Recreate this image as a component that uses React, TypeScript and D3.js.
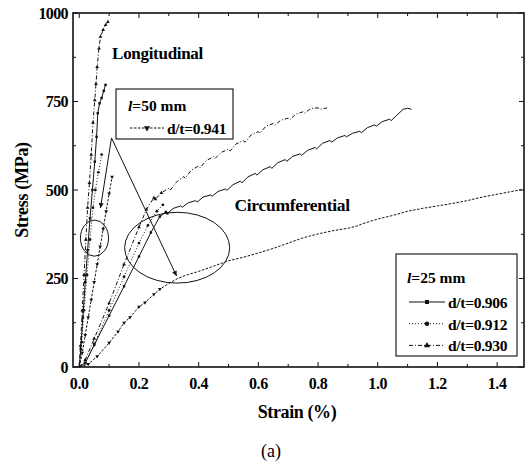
import React from 'react';
import * as d3 from 'd3';

// ---- data: [strain %, stress MPa] ----
// circumferential, l = 25 mm
const circ906: [number, number][] = [
  [0, 0], [0.02, 12], [0.05, 62], [0.1, 145], [0.15, 228], [0.2, 312], [0.24, 380], [0.27, 425], [0.29, 438], [0.295, 434],
  [0.315, 448], [0.34, 455], [0.345, 451], [0.365, 464], [0.39, 470], [0.395, 466],
  [0.415, 480], [0.44, 486], [0.445, 482], [0.465, 496], [0.49, 503], [0.495, 499],
  [0.515, 515], [0.54, 525], [0.545, 520], [0.565, 537], [0.59, 547], [0.595, 542],
  [0.615, 557], [0.64, 566], [0.645, 561], [0.665, 577], [0.69, 586], [0.695, 581],
  [0.715, 595], [0.74, 602], [0.745, 598], [0.765, 612], [0.79, 620], [0.795, 616],
  [0.815, 632], [0.84, 640], [0.845, 635], [0.865, 647], [0.89, 654], [0.895, 650],
  [0.915, 660], [0.94, 666], [0.945, 662], [0.965, 676], [0.99, 684], [0.995, 680],
  [1.015, 693], [1.04, 700], [1.045, 696], [1.06, 708], [1.085, 728], [1.1, 731], [1.113, 728],
];
const circ912: [number, number][] = [
  [0, 0], [0.02, 10], [0.05, 65], [0.1, 160], [0.15, 255], [0.2, 350], [0.23, 400], [0.26, 440], [0.28, 458],
];
const circ930: [number, number][] = [
  [0, 0], [0.02, 20], [0.05, 80], [0.1, 180], [0.15, 290], [0.2, 395], [0.225, 445], [0.25, 478], [0.255, 474],
  [0.275, 492], [0.3, 505], [0.305, 500], [0.325, 522], [0.35, 538], [0.355, 533],
  [0.375, 556], [0.4, 568], [0.405, 563], [0.425, 583], [0.45, 594], [0.455, 589],
  [0.475, 606], [0.5, 615], [0.505, 610], [0.525, 630], [0.55, 640], [0.555, 635],
  [0.575, 655], [0.6, 665], [0.605, 660], [0.625, 680], [0.65, 688], [0.655, 683],
  [0.675, 697], [0.7, 703], [0.705, 698], [0.725, 714], [0.75, 721], [0.755, 717],
  [0.775, 730], [0.8, 732], [0.81, 728], [0.83, 732],
];
// circumferential, l = 50 mm
const circ941: [number, number][] = [
  [0, 0], [0.03, 8], [0.06, 30], [0.1, 68], [0.13, 100], [0.15, 125], [0.17, 140], [0.2, 170], [0.22, 182],
  [0.25, 205], [0.27, 220], [0.3, 236], [0.33, 250], [0.36, 260], [0.4, 270], [0.45, 285], [0.5, 300],
  [0.55, 310], [0.6, 322], [0.65, 335], [0.7, 350], [0.75, 365], [0.8, 376], [0.85, 385], [0.9, 392],
  [0.93, 398], [0.95, 405], [1.0, 418], [1.05, 428], [1.1, 440], [1.15, 448], [1.2, 455], [1.25, 462],
  [1.3, 470], [1.35, 480], [1.4, 488], [1.45, 496], [1.49, 502],
];
// longitudinal
const long906: [number, number][] = [
  [0, 0], [0.005, 50], [0.012, 140], [0.02, 240], [0.028, 330], [0.036, 420], [0.044, 500], [0.052, 580],
  [0.058, 650], [0.062, 717], [0.068, 745], [0.075, 760], [0.082, 780], [0.088, 797],
];
const long912: [number, number][] = [
  [0, 0], [0.008, 70], [0.016, 160], [0.026, 260], [0.036, 360], [0.046, 450], [0.054, 500], [0.064, 550], [0.075, 600],
];
const long930: [number, number][] = [
  [0, 0], [0.004, 60], [0.01, 160], [0.016, 260], [0.022, 360], [0.028, 450], [0.034, 520], [0.04, 600],
  [0.046, 690], [0.052, 754], [0.056, 800], [0.06, 848], [0.066, 900], [0.071, 933], [0.08, 952], [0.088, 966], [0.096, 975],
];
const long941: [number, number][] = [
  [0, 0], [0.01, 40], [0.02, 90], [0.03, 140], [0.04, 190], [0.05, 240], [0.06, 290], [0.07, 340],
  [0.08, 390], [0.09, 440], [0.1, 490], [0.11, 537],
];

const xMajor = [0, 0.2, 0.4, 0.6, 0.8, 1.0, 1.2, 1.4];
const xMinor = [0.1, 0.3, 0.5, 0.7, 0.9, 1.1, 1.3];
const yMajor = [0, 250, 500, 750, 1000];
const yMinor = [125, 375, 625, 875];

const legend25 = ['d/t=0.906', 'd/t=0.912', 'd/t=0.930'];
const legend50 = ['d/t=0.941'];

// annotation anchors (data units)
const arrowFrom: [number, number] = [0.108, 647];
const arrowTo: [number, number][] = [[0.071, 449], [0.326, 257]];
const smallEllipse = { cx: 0.051, cy: 364, rx: 0.047, ry: 51 };
const bigEllipse = { cx: 0.328, cy: 337, rx: 0.176, ry: 100 };

const styles: Record<string, { dash: string; sym: d3.SymbolType; flip?: boolean }> = {
  'd/t=0.906': { dash: 'none', sym: d3.symbolSquare },
  'd/t=0.912': { dash: '1,2', sym: d3.symbolCircle },
  'd/t=0.930': { dash: '4,2,1,2', sym: d3.symbolTriangle },
  'd/t=0.941': { dash: '2.5,1.5', sym: d3.symbolTriangle, flip: true },
};

const curves: { key: string; data: [number, number][] }[] = [
  { key: 'd/t=0.941', data: circ941 },
  { key: 'd/t=0.912', data: circ912 },
  { key: 'd/t=0.930', data: circ930 },
  { key: 'd/t=0.906', data: circ906 },
  { key: 'd/t=0.941', data: long941 },
  { key: 'd/t=0.912', data: long912 },
  { key: 'd/t=0.930', data: long930 },
  { key: 'd/t=0.906', data: long906 },
];

const FONT = '"Liberation Serif", "Times New Roman", serif';

const Marker = ({ k, cx, cy, size }: { k: string; cx: number; cy: number; size: number }) => {
  const s = styles[k];
  const d = d3.symbol().type(s.sym).size(size)() || '';
  return <path d={d} transform={`translate(${cx},${cy})${s.flip ? ' rotate(180)' : ''}`} fill="#111" />;
};

export default function App() {
  const x = d3.scaleLinear().domain([-0.021, 1.49]).range([73, 524]);
  const y = d3.scaleLinear().domain([0, 1000]).range([367, 13]);
  const line = d3.line<[number, number]>().x(d => x(d[0])).y(d => y(d[1]));
  const [x0, x1] = x.range();
  const [y0, y1] = y.range();

  return (
    <svg width={529} height={464} style={{ position: 'absolute', left: 0, top: 0, background: '#fff' }} fontFamily={FONT}>
      <defs>
        <marker id="ah" viewBox="0 0 10 10" refX={10} refY={5} markerWidth={9} markerHeight={5} markerUnits="userSpaceOnUse" orient="auto">
          <path d="M0,0 L10,5 L0,10 z" fill="#111" />
        </marker>
      </defs>

      {/* curves */}
      {curves.map((c, i) => (
        <g key={i}>
          <path d={line(c.data) || ''} fill="none" stroke="#111" strokeWidth={1} strokeDasharray={styles[c.key].dash} />
          {c.data.filter(d => d[0] > 0 && d[0] < 0.3).map((d, j) => (
            <Marker key={j} k={c.key} cx={x(d[0])} cy={y(d[1])} size={6} />
          ))}
        </g>
      ))}

      {/* ellipses and arrows */}
      <ellipse cx={x(smallEllipse.cx)} cy={y(smallEllipse.cy)} rx={x(smallEllipse.rx) - x(0)} ry={y(0) - y(smallEllipse.ry)} fill="none" stroke="#111" strokeWidth={1} />
      <ellipse cx={x(bigEllipse.cx)} cy={y(bigEllipse.cy)} rx={x(bigEllipse.rx) - x(0)} ry={y(0) - y(bigEllipse.ry)} fill="none" stroke="#111" strokeWidth={1} />
      {arrowTo.map((t, i) => (
        <line key={i} x1={x(arrowFrom[0])} y1={y(arrowFrom[1])} x2={x(t[0])} y2={y(t[1])} stroke="#111" strokeWidth={1} markerEnd="url(#ah)" />
      ))}

      {/* annotations */}
      <text x={x(0.11)} y={y(870)} fontSize={17} fontWeight="bold" letterSpacing={-0.3}>Longitudinal</text>
      <text x={x(0.52)} y={y(440)} fontSize={17.5} fontWeight="bold" letterSpacing={-0.3}>Circumferential</text>

      {/* legend l=50 */}
      <rect x={116} y={89} width={117} height={50} fill="#fff" stroke="#222" strokeWidth={1.2} />
      <text x={128} y={111} fontSize={15.5} fontWeight="bold">
        <tspan fontStyle="italic">l</tspan>=50 mm
      </text>
      {legend50.map((k, i) => (
        <g key={k} transform={`translate(0,${128 + i * 22})`}>
          <line x1={130} x2={164} y1={0} y2={0} stroke="#111" strokeWidth={1} strokeDasharray={styles[k].dash} />
          <Marker k={k} cx={147} cy={0} size={16} />
          <text x={167} y={6} fontSize={15.5} fontWeight="bold" letterSpacing={-0.3}>{k}</text>
        </g>
      ))}

      {/* legend l=25 */}
      <rect x={396} y={254} width={121} height={102} fill="#fff" stroke="#222" strokeWidth={1.2} />
      <text x={407} y={283} fontSize={15.5} fontWeight="bold">
        <tspan fontStyle="italic">l</tspan>=25 mm
      </text>
      {legend25.map((k, i) => (
        <g key={k} transform={`translate(0,${302 + i * 21.7})`}>
          <line x1={409} x2={445} y1={0} y2={0} stroke="#111" strokeWidth={1} strokeDasharray={styles[k].dash} />
          <Marker k={k} cx={427} cy={0} size={16} />
          <text x={448} y={6} fontSize={15.5} fontWeight="bold" letterSpacing={-0.3}>{k}</text>
        </g>
      ))}

      {/* frame */}
      <rect x={x0} y={y1} width={x1 - x0} height={y0 - y1} fill="none" stroke="#111" strokeWidth={1.6} />

      {/* ticks */}
      {xMajor.map(t => (
        <g key={'xM' + t}>
          <line x1={x(t)} x2={x(t)} y1={y0} y2={y0 - 5} stroke="#111" strokeWidth={1} />
          <line x1={x(t)} x2={x(t)} y1={y1} y2={y1 + 5} stroke="#111" strokeWidth={1} />
          <text x={x(t)} y={389} textAnchor="middle" fontSize={16} fontWeight="bold" letterSpacing={-0.4}>{t.toFixed(1)}</text>
        </g>
      ))}
      {xMinor.map(t => (
        <g key={'xm' + t}>
          <line x1={x(t)} x2={x(t)} y1={y0} y2={y0 - 3} stroke="#111" strokeWidth={1} />
          <line x1={x(t)} x2={x(t)} y1={y1} y2={y1 + 3} stroke="#111" strokeWidth={1} />
        </g>
      ))}
      {yMajor.map(t => (
        <g key={'yM' + t}>
          <line x1={x0} x2={x0 + 5} y1={y(t)} y2={y(t)} stroke="#111" strokeWidth={1} />
          <line x1={x1} x2={x1 - 5} y1={y(t)} y2={y(t)} stroke="#111" strokeWidth={1} />
          <text x={68} y={y(t) + 5.5} textAnchor="end" fontSize={16} fontWeight="bold" letterSpacing={-0.6}>{t}</text>
        </g>
      ))}
      {yMinor.map(t => (
        <g key={'ym' + t}>
          <line x1={x0} x2={x0 + 3} y1={y(t)} y2={y(t)} stroke="#111" strokeWidth={1} />
          <line x1={x1} x2={x1 - 3} y1={y(t)} y2={y(t)} stroke="#111" strokeWidth={1} />
        </g>
      ))}

      {/* axis titles */}
      <text x={297} y={418} textAnchor="middle" fontSize={18} fontWeight="bold" letterSpacing={-0.4}>Strain (%)</text>
      <text transform={`translate(28,${(y0 + y1) / 2}) rotate(-90)`} textAnchor="middle" fontSize={18} fontWeight="bold" letterSpacing={-0.3}>Stress (MPa)</text>
      <text x={271} y={457} textAnchor="middle" fontSize={18}>(a)</text>
    </svg>
  );
}
